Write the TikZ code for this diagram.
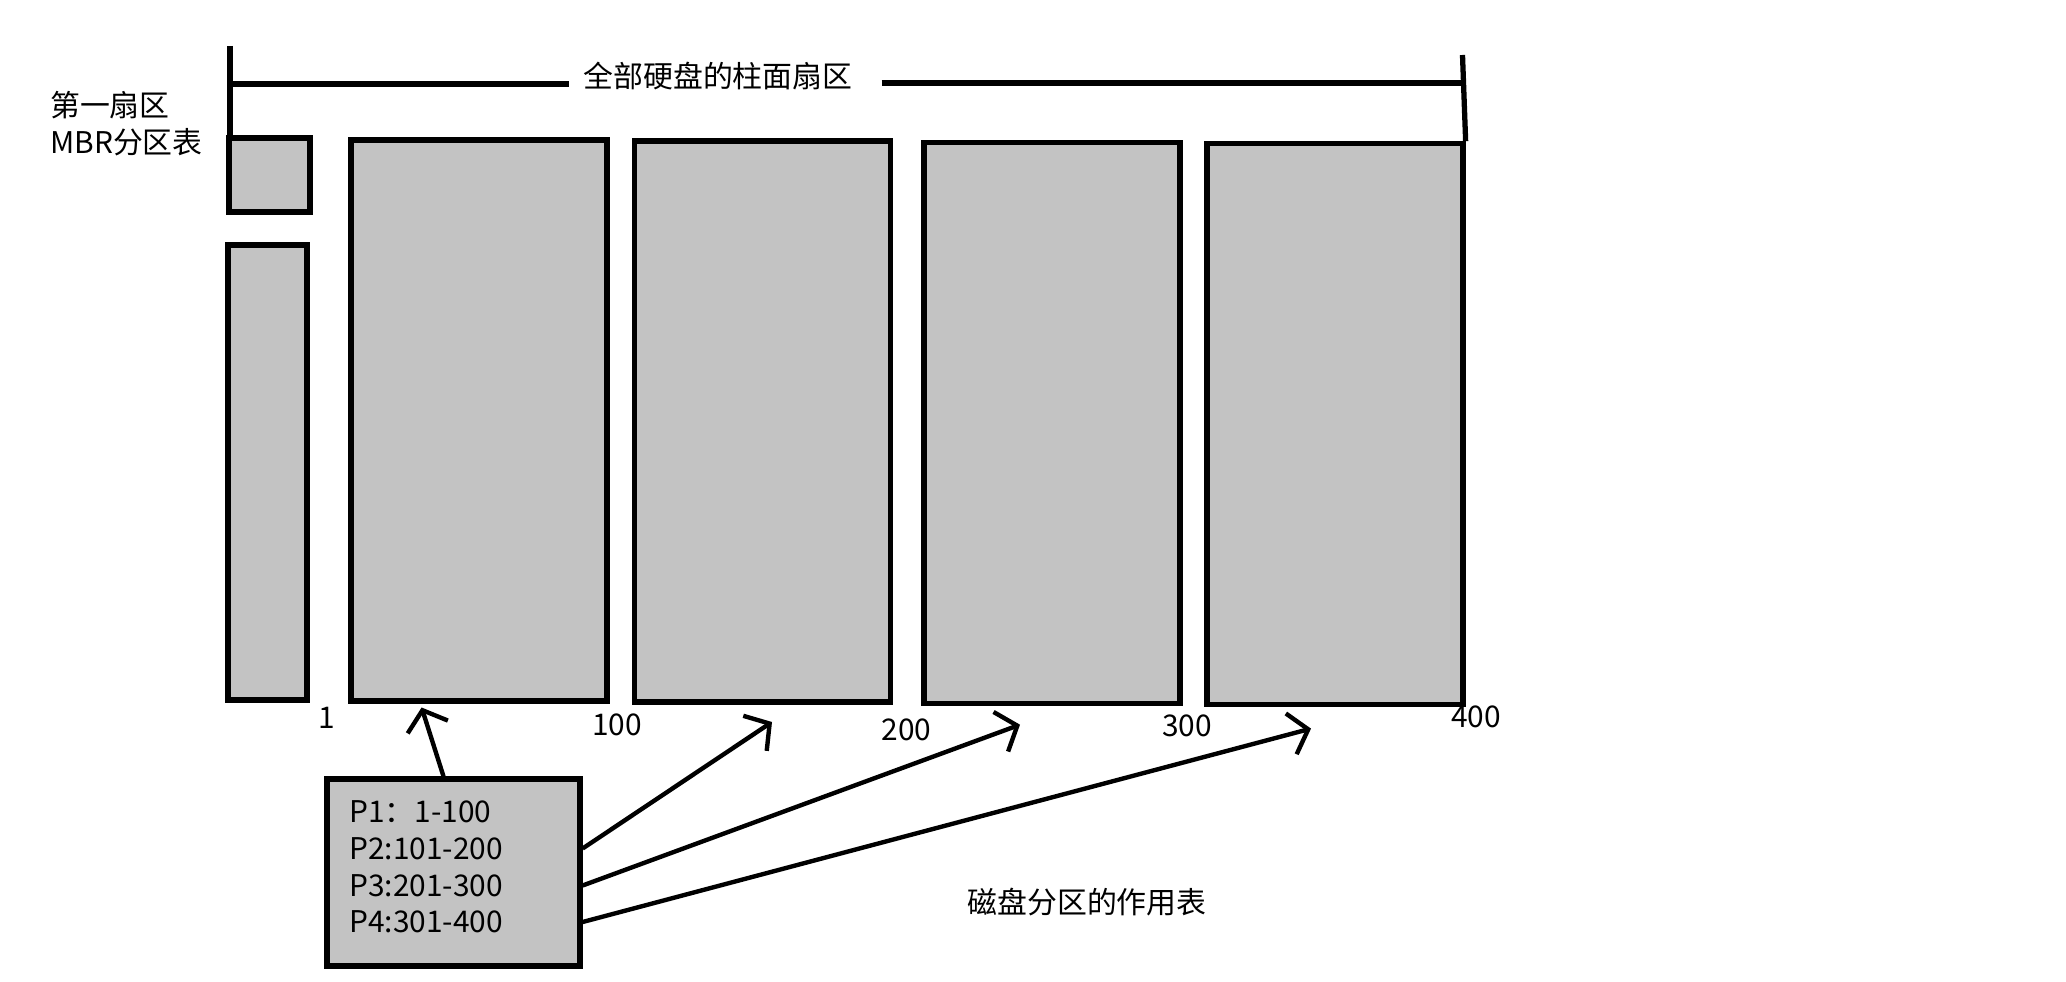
\documentclass[tikz,border=0pt]{standalone}
\usepackage{fontspec}
\setmainfont{Noto Sans CJK SC}
\usetikzlibrary{arrows.meta}
\definecolor{partgray}{RGB}{195,195,195}

\begin{document}
\begin{tikzpicture}[
  font=\fontsize{8.5}{10}\selectfont,
  part/.style={rectangle, draw=black, fill=partgray, line width=1.5pt, inner sep=0pt,
               minimum width=2.56cm, minimum height=5.61cm},
  bar/.style={line width=1.5pt},
  ptr/.style={line width=1.25pt, -{Straight Barb[length=5pt,width=12pt,line width=1.25pt]}},
  lbl/.style={inner sep=1pt}
]
  \useasboundingbox (0,0) rectangle (20.66,-9.82);

  % MBR sector and the rest of cylinder 1
  \node[part, minimum width=0.81cm, minimum height=0.74cm] (mbr) at (2.695,-1.75) {};
  \node[part, minimum width=0.79cm, minimum height=4.55cm] (c1) at (2.675,-4.725) {};

  % four partitions
  \node[part] (p1) at (4.79,-4.205) {};
  \node[part] (p2) at (7.625,-4.215) {};
  \node[part] (p3) at (10.52,-4.228) {};
  \node[part] (p4) at (13.35,-4.243) {};

  % bracket over the whole disk
  \node[lbl] (title) at (7.18,-0.76) {全部硬盘的柱面扇区};
  \coordinate (lt) at (2.30,-0.46);
  \coordinate (rt) at (14.625,-0.55);
  \draw[bar] (lt) -- (lt |- mbr.north);
  \draw[bar] (rt) -- (p4.north east);
  \draw[bar] (lt |- 0,-0.84) -- (5.69,-0.84);
  \draw[bar] (8.815,-0.83) -- (rt |- 0,-0.83);

  \node[lbl, anchor=west] (s1) at (0.46,-1.05) {第一扇区};
  \node[lbl, anchor=west] (s2) at (0.46,-1.42) {MBR分区表};

  % cylinder numbers
  \node[lbl] (n1) at (3.27,-7.18) {1};
  \node[lbl] (n100) at (6.17,-7.25) {100};
  \node[lbl] (n200) at (9.065,-7.30) {200};
  \node[lbl] (n300) at (11.87,-7.26) {300};
  \node[lbl] (n400) at (14.76,-7.17) {400};

  % partition table
  \node[part, minimum width=2.53cm, minimum height=1.87cm] (tab) at (4.535,-8.725) {};
  \node[lbl, anchor=west] (l1) at (3.45,-8.12) {P1：1-100};
  \node[lbl, anchor=west] (l2) at (3.45,-8.485) {P2:101-200};
  \node[lbl, anchor=west] (l3) at (3.45,-8.855) {P3:201-300};
  \node[lbl, anchor=west] (l4) at (3.45,-9.22) {P4:301-400};

  \coordinate (t1) at (4.216,-7.075);
  \coordinate (t2) at (7.72,-7.22);
  \coordinate (t3) at (10.20,-7.247);
  \coordinate (t4) at (13.11,-7.286);
  \draw[ptr] ([xshift=-0.1cm]tab.north) -- (t1);
  \draw[ptr] (tab.east |- l2) -- (t2);
  \draw[ptr] (tab.east |- l3) -- (t3);
  \draw[ptr] (tab.east |- l4) -- (t4);

  \node[lbl] (note) at (10.87,-9.025) {磁盘分区的作用表};
\end{tikzpicture}
\end{document}
